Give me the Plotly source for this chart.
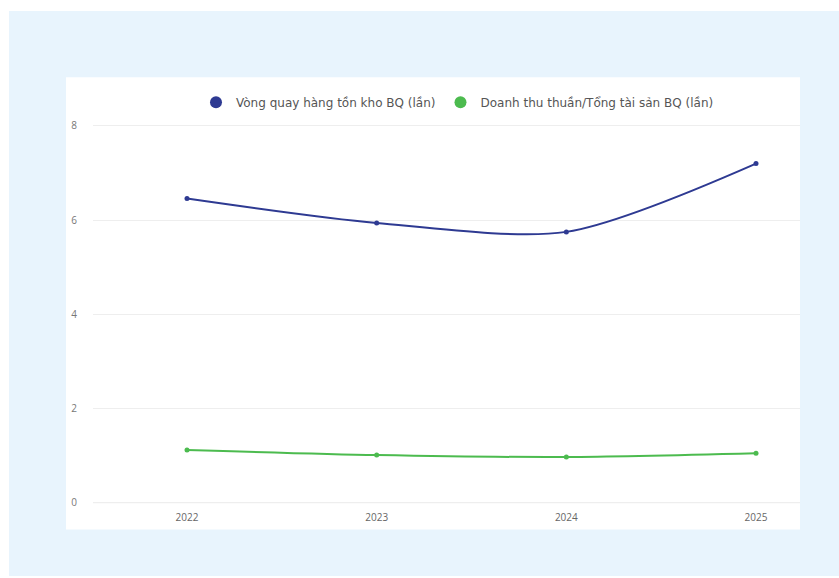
import plotly.graph_objects as go

years = ["2022", "2023", "2024", "2025"]
inventory_turnover = [6.46, 5.94, 5.75, 7.2]
asset_turnover = [1.12, 1.01, 0.97, 1.05]
series_names = ["Vòng quay hàng tồn kho BQ (lần)", "Doanh thu thuần/Tổng tài sản BQ (lần)"]
y_ticks = [0, 2, 4, 6, 8]

W, H = 839, 578
BLUE = "#2e3a92"
GREEN = "#4cbb4f"

def px(x):
    return x / W

def py(y):
    return 1 - y / H

fig = go.Figure()
for name, vals, col in [(series_names[0], inventory_turnover, BLUE), (series_names[1], asset_turnover, GREEN)]:
    fig.add_trace(go.Scatter(
        x=years, y=vals, mode="lines+markers", name=name, showlegend=False,
        line=dict(color=col, width=2, shape="spline", smoothing=0.8),
        marker=dict(color=col, size=5), cliponaxis=False, legendgroup=name,
    ))
    fig.add_trace(go.Scatter(
        x=[None], y=[None], mode="markers", name=name, legendgroup=name,
        marker=dict(color=col, size=12),
    ))

# y: 0 -> 504px, 8 -> 124px
ppu = (504 - 124) / 8
ymin, ymax = -0.1, 8.1
y_bot = 504 + 0.1 * ppu
y_top = 124 - 0.1 * ppu
# x: 2022 -> 187, 2025 -> 756
xppu = (756 - 187) / 3
xl, xr = 93, 800
x0 = -(187 - xl) / xppu
x1 = 3 + (xr - 756) / xppu

fig.update_layout(
    width=W, height=H,
    margin=dict(l=0, r=0, t=0, b=0),
    paper_bgcolor="white", plot_bgcolor="rgba(0,0,0,0)",
    font=dict(family="Open Sans", color="#777777", size=10),
    showlegend=True,
    legend=dict(orientation="h", x=px(196), y=py(100), xanchor="left", yanchor="middle",
                font=dict(family="DejaVu Sans", size=12, color="#555555"), itemsizing="trace",
                bgcolor="rgba(0,0,0,0)", itemwidth=30, tracegroupgap=0),
    xaxis=dict(domain=[px(xl), px(xr)], range=[x0, x1], type="category",
               showgrid=False, showline=False, zeroline=False, ticks="",
               ticklabelstandoff=3,
               tickfont=dict(size=10, color="#666666")),
    yaxis=dict(domain=[py(y_bot), py(y_top)], range=[ymin, ymax], tickvals=y_ticks,
               showgrid=True, gridcolor="#eeeeee", gridwidth=1, zeroline=False,
               showline=False, ticks="", ticklabelstandoff=15,
               tickfont=dict(size=10, color="#777777")),
    shapes=[
        dict(type="rect", xref="paper", yref="paper", x0=px(9), x1=1, y0=0, y1=py(8),
             fillcolor="#e8f4fd", line=dict(width=0), layer="below"),
        dict(type="rect", xref="paper", yref="paper", x0=px(66), x1=px(800), y0=py(531), y1=py(75),
             fillcolor="white", line=dict(width=0), layer="below"),
        dict(type="line", xref="paper", yref="y", x0=px(xl), x1=px(xr), y0=0, y1=0,
             line=dict(color="#dddddd", width=1), layer="below"),
    ],
)

fig.write_html("out.html")
